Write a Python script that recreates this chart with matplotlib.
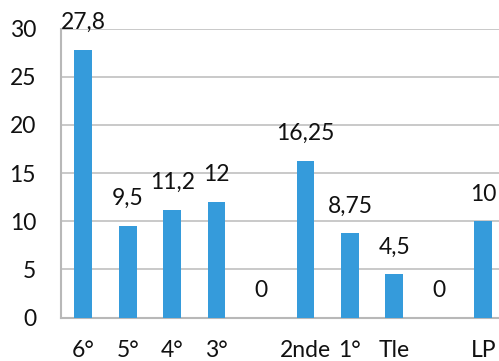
import matplotlib
matplotlib.use("Agg")
import matplotlib.pyplot as plt

categories = ["6°", "5°", "4°", "3°", "", "2nde", "1°", "Tle", "", "LP"]
values = [27.8, 9.5, 11.2, 12, 0, 16.25, 8.75, 4.5, 0, 10]
value_labels = ["27,8", "9,5", "11,2", "12", "0", "16,25", "8,75", "4,5", "0", "10"]
yticks = [0, 5, 10, 15, 20, 25, 30]

plt.rcParams['font.family'] = ['Lato', 'DejaVu Sans']

fig = plt.figure(figsize=(4.99, 3.61), dpi=100)
W, H = 499, 361
left, right = 61, 505.5
bottom, top = 317.5, 28.5
ax = fig.add_axes([left / W, 1 - bottom / H, (right - left) / W, (bottom - top) / H])

FS = 16.5
x = list(range(len(categories)))
ax.bar(x, values, width=0.4, color="#359BDB", zorder=3)
for xi, v, lab in zip(x, values, value_labels):
    ax.annotate(lab, (xi, v), xytext=(0, 12), textcoords="offset points",
                ha="center", va="bottom", fontsize=FS, color="#111111")

ax.set_xlim(-0.5, len(categories) - 0.5)
ax.set_ylim(0, 30)
ax.set_yticks(yticks)
ax.set_yticklabels([str(t) for t in yticks], fontsize=FS, color="#111111")
ax.set_xticks(x)
ax.set_xticklabels(categories, fontsize=FS, color="#111111")
ax.tick_params(axis="y", length=0, pad=18)
ax.tick_params(axis="x", length=0, pad=16)
ax.grid(axis="y", color="#C0C0C0", linewidth=1.2, zorder=0)
for s in ["top", "right"]:
    ax.spines[s].set_visible(False)
for s in ["left", "bottom"]:
    ax.spines[s].set_color("#B8B8B8")
    ax.spines[s].set_linewidth(1.5)

fig.savefig("out.png", dpi=100)
